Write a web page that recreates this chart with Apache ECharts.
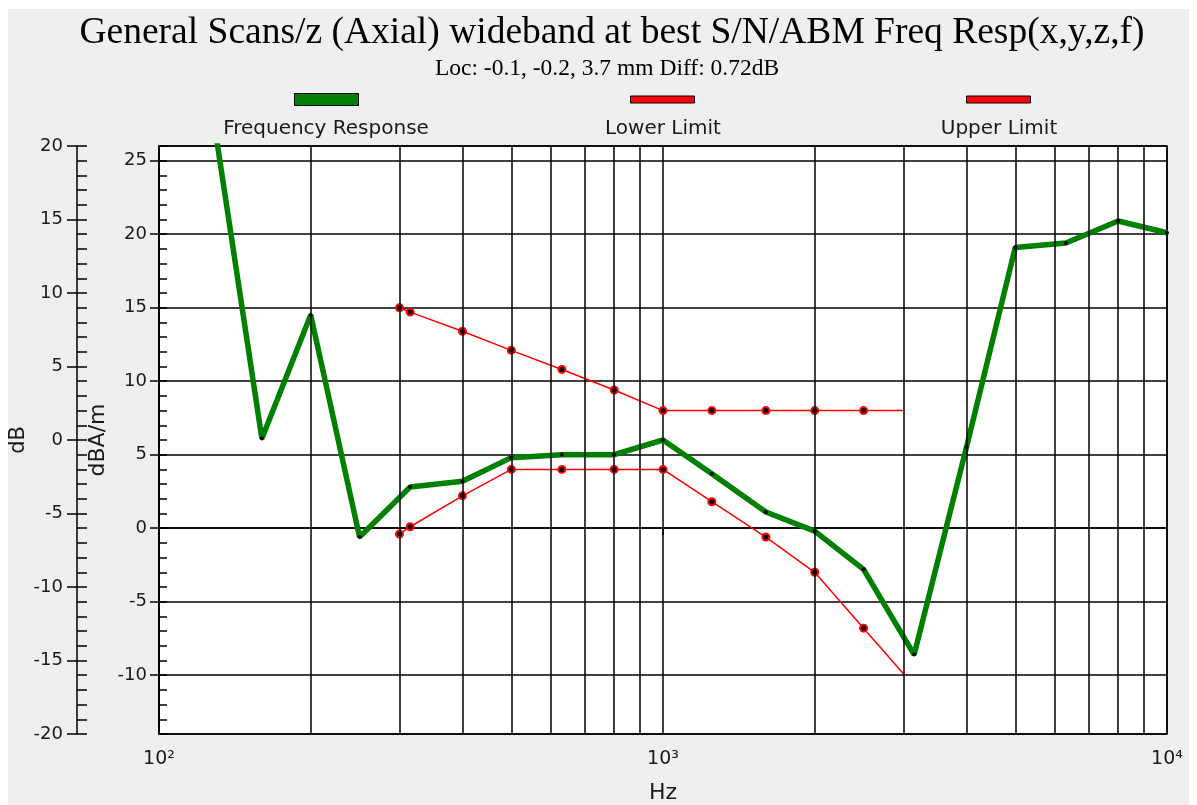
<!DOCTYPE html>
<html>
<head>
<meta charset="utf-8">
<title>Freq Resp</title>
<script src="https://cdn.jsdelivr.net/npm/echarts@6.0.0/dist/echarts.min.js"></script>
<style>
html, body { margin: 0; padding: 0; background: #fff; }
#chart { width: 1197px; height: 805px; }
</style>
</head>
<body>
<div id="chart"></div>
<script>
// 1/3 octave points of the measured response (dBA/m)
const respFreq = [125, 160, 200, 250, 315, 400, 500, 630, 800, 1000, 1250, 1600, 2000, 2500, 3150, 4000, 5000, 6300, 8000, 10000];
const respDb = [30.4, 6.1, 14.5, -0.6, 2.8, 3.2, 4.8, 5.0, 5.0, 6.0, 3.7, 1.1, -0.2, -2.8, -8.6, 5.5, 19.1, 19.4, 20.9, 20.1];

// limit mask
const limitFreq = [300, 315, 400, 500, 630, 800, 1000, 1250, 1600, 2000, 2500, 3000];
const lowerDb = [-0.4, 0.1, 2.2, 4.0, 4.0, 4.0, 4.0, 1.8, -0.6, -3.0, -6.8, -9.9];
const upperDb = [15.0, 14.7, 13.4, 12.1, 10.8, 9.4, 8.0, 8.0, 8.0, 8.0, 8.0, 8.0];

// vertical grid lines between the decades
const gridFreq = [200, 300, 400, 500, 600, 700, 800, 900, 2000, 3000, 4000, 5000, 6000, 7000, 8000, 9000];

const legendNames = ['Frequency Response', 'Lower Limit', 'Upper Limit'];

const green = '#008000';
const red = '#ff0000';
const sans = 'DejaVu Sans';
const serif = 'Liberation Serif';
const ink = '#1a1a1a';

function pairs(xs, ys) {
	return xs.map((x, i) => [x, ys[i]]);
}

// the limit lines stop without a dot on the last point
function limitData(ys) {
	return limitFreq.map((f, i) => {
		if(i === limitFreq.length - 1) {
			return { value: [f, ys[i]], symbol: 'none' };
		}
		return [f, ys[i]];
	});
}

function sup(n) {
	return '⁰¹²³⁴⁵⁶⁷⁸⁹'[n];
}

// legend: icon on top, label centred underneath
const measure = document.createElement('canvas').getContext('2d');
measure.font = '20px "' + sans + '"';
const legendCenter = [326, 662, 998];
const legendColor = [green, red, red];
const legendIconH = [12, 7, 7];
const legends = [];
legendNames.forEach((name, i) => {
	legends.push({
		data: [{
			name: name,
			itemStyle: { color: legendColor[i], borderColor: '#000', borderWidth: 1 }
		}],
		left: legendCenter[i] - 32,
		top: 99 - legendIconH[i] / 2,
		padding: 0,
		icon: 'rect',
		itemWidth: 64,
		itemHeight: legendIconH[i],
		formatter: () => '',
		selectedMode: false
	});
	legends.push({
		data: [{ name: name, itemStyle: { opacity: 0 } }],
		left: legendCenter[i] - measure.measureText(name).width / 2 - 5,
		top: 119,
		padding: 0,
		icon: 'rect',
		itemWidth: 0,
		itemHeight: 0,
		textStyle: { fontFamily: sans, fontSize: 20, color: ink },
		selectedMode: false
	});
});

const blackLine = { color: '#000', width: 1.5 };

const options = {
	backgroundColor: '#fff',
	animation: false,
	graphic: [{
		type: 'rect',
		z: -10,
		silent: true,
		shape: { x: 8, y: 9, width: 1181, height: 800 },
		style: { fill: '#efefef' }
	}],
	title: [{
		text: 'General Scans/z (Axial) wideband at best S/N/ABM Freq Resp(x,y,z,f)',
		left: 612,
		top: 14,
		padding: 0,
		textAlign: 'center',
		textStyle: { fontFamily: serif, fontSize: 37.5, fontWeight: 'normal', color: '#000' }
	}, {
		text: 'Loc: -0.1, -0.2, 3.7 mm Diff: 0.72dB',
		left: 607,
		top: 57,
		padding: 0,
		textAlign: 'center',
		textStyle: { fontFamily: serif, fontSize: 23.5, fontWeight: 'normal', color: '#000' }
	}],
	legend: legends,
	grid: {
		left: 159,
		right: 30,
		top: 146,
		bottom: 71,
		outerBoundsMode: 'none',
		show: true,
		backgroundColor: '#fff',
		borderColor: '#000',
		borderWidth: 1.5
	},
	xAxis: {
		type: 'log',
		logBase: 10,
		min: 100,
		max: 10000,
		axisLine: { lineStyle: blackLine },
		axisTick: { length: 7, lineStyle: blackLine },
		axisLabel: {
			formatter: v => '10' + sup(Math.round(Math.log10(v))),
			fontFamily: sans,
			fontSize: 19,
			color: ink,
			margin: 16
		},
		splitLine: { show: true, lineStyle: blackLine },
		name: 'Hz',
		nameLocation: 'middle',
		nameGap: 48,
		nameMoveOverlap: false,
		nameTextStyle: { fontFamily: sans, fontSize: 22, color: ink }
	},
	yAxis: [{
		// dBA/m, the one the grid follows
		type: 'value',
		position: 'left',
		min: -14,
		max: 26,
		splitNumber: 8,
		axisLine: { show: true, lineStyle: blackLine },
		axisTick: { show: true, length: 9, lineStyle: blackLine },
		axisLabel: {
			fontFamily: sans, fontSize: 18, color: ink, margin: 12,
			showMinLabel: false, showMaxLabel: false
		},
		splitLine: { show: true, lineStyle: blackLine },
		name: 'dBA/m',
		nameLocation: 'middle',
		nameGap: 50,
		nameMoveOverlap: false,
		nameTextStyle: { fontFamily: sans, fontSize: 22, color: ink }
	}, {
		// inward minor ticks of the dBA/m axis
		type: 'value',
		position: 'left',
		min: -14,
		max: 26,
		splitNumber: 8,
		axisLine: { show: false },
		axisTick: { show: true, inside: true, length: 8, lineStyle: blackLine },
		minorTick: { show: true, splitNumber: 5, length: 8, lineStyle: blackLine },
		axisLabel: { show: false },
		splitLine: { show: false }
	}, {
		// outer dB axis
		type: 'value',
		position: 'left',
		offset: 82,
		min: -20,
		max: 20,
		interval: 5,
		axisLine: { show: true, lineStyle: blackLine },
		axisTick: { show: true, length: 10, lineStyle: blackLine },
		axisLabel: { fontFamily: sans, fontSize: 18, color: ink, margin: 14 },
		splitLine: { show: false },
		name: 'dB',
		nameLocation: 'middle',
		nameGap: 48,
		nameMoveOverlap: false,
		nameTextStyle: { fontFamily: sans, fontSize: 21, color: ink }
	}, {
		type: 'value',
		position: 'left',
		offset: 82,
		min: -20,
		max: 20,
		interval: 5,
		axisLine: { show: false },
		axisTick: { show: true, inside: true, length: 10, lineStyle: blackLine },
		minorTick: { show: true, splitNumber: 5, length: 10, lineStyle: blackLine },
		axisLabel: { show: false },
		splitLine: { show: false }
	}],
	series: [{
		name: 'grid',
		type: 'line',
		data: [],
		z: 1,
		silent: true,
		markLine: {
			silent: true,
			symbol: ['none', 'none'],
			label: { show: false },
			lineStyle: { color: '#000', width: 1.5, type: 'solid' },
			emphasis: { disabled: true },
			data: gridFreq.map(f => ({ xAxis: f }))
		}
	}, {
		name: 'Lower Limit',
		type: 'line',
		data: limitData(lowerDb),
		z: 3,
		symbol: 'circle',
		symbolSize: 7,
		showAllSymbol: true,
		lineStyle: { color: red, width: 1.5 },
		itemStyle: { color: '#000', borderColor: red, borderWidth: 2 },
		emphasis: { disabled: true }
	}, {
		name: 'Upper Limit',
		type: 'line',
		data: limitData(upperDb),
		z: 3,
		symbol: 'circle',
		symbolSize: 7,
		showAllSymbol: true,
		lineStyle: { color: red, width: 1.5 },
		itemStyle: { color: '#000', borderColor: red, borderWidth: 2 },
		emphasis: { disabled: true }
	}, {
		name: 'Frequency Response',
		type: 'line',
		data: pairs(respFreq, respDb),
		z: 4,
		symbol: 'circle',
		symbolSize: 4,
		showAllSymbol: true,
		lineStyle: { color: green, width: 5.5 },
		itemStyle: { color: '#000' },
		emphasis: { disabled: true }
	}]
};

const chart = echarts.init(document.getElementById('chart'));
chart.setOption(options);
</script>
</body>
</html>
